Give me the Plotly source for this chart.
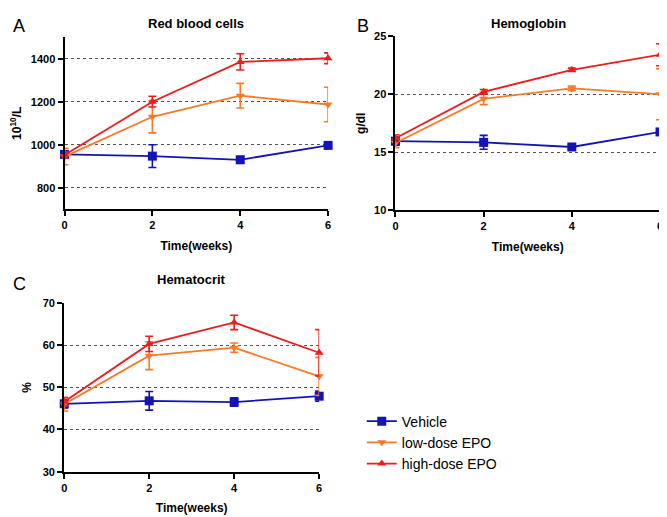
import plotly.graph_objects as go

weeks = [0, 2, 4, 6]
groups = ["Vehicle", "low-dose EPO", "high-dose EPO"]
colors = ["#1414B4", "#F77A28", "#EE1C1C"]
symbols = ["square", "triangle-down", "triangle-up"]

# Red blood cells (10^10/L)
rbc_vehicle = [955, 947, 930, 997]
rbc_vehicle_err = [15, 53, 15, 15]
rbc_low = [945, 1130, 1228, 1187]
rbc_low_err = [38, 75, 57, 80]
rbc_high = [952, 1200, 1385, 1402]
rbc_high_err = [15, 25, 38, 25]

# Hemoglobin (g/dl)
hb_vehicle = [15.95, 15.85, 15.45, 16.75]
hb_vehicle_err = [0.35, 0.6, 0.15, 0.2]
hb_low = [15.8, 19.6, 20.5, 20.0]
hb_low_err = [0.4, 0.5, 0.2, 2.2]
hb_high = [16.2, 20.2, 22.1, 23.4]
hb_high_err = [0.3, 0.2, 0.15, 0.95]

# Hematocrit (%)
hct_vehicle = [46.1, 46.8, 46.5, 47.9]
hct_vehicle_err = [1.0, 2.2, 1.0, 1.2]
hct_low = [46.0, 57.5, 59.4, 52.6]
hct_low_err = [1.6, 3.3, 1.1, 4.5]
hct_high = [46.6, 60.3, 65.4, 58.2]
hct_high_err = [1.0, 1.8, 1.7, 5.5]

panels = [
    ("x", "y", [rbc_vehicle, rbc_low, rbc_high], [rbc_vehicle_err, rbc_low_err, rbc_high_err]),
    ("x2", "y2", [hb_vehicle, hb_low, hb_high], [hb_vehicle_err, hb_low_err, hb_high_err]),
    ("x3", "y3", [hct_vehicle, hct_low, hct_high], [hct_vehicle_err, hct_low_err, hct_high_err]),
]

FONT = "Liberation Sans, Arial, sans-serif"
# the page body has an 8px margin; the figure fills the rest of the window
OFF = 8
W, H = 667 - OFF, 517 - OFF

def px(x):
    return (x - OFF) / W

def py(y):
    return 1 - (y - OFF) / H

fig = go.Figure()
for pi, (xa, ya, vals, errs) in enumerate(panels):
    for gi in range(3):
        fig.add_trace(go.Scatter(
            x=weeks, y=vals[gi], xaxis=xa, yaxis=ya,
            mode="lines+markers", name=groups[gi], legendgroup=groups[gi],
            showlegend=(pi == 0),
            line=dict(color=colors[gi], width=1.8),
            marker=dict(symbol=symbols[gi], size=9 if gi == 0 else 8, color=colors[gi]),
            error_y=dict(type="data", array=errs[gi], color=colors[gi], thickness=1.6, width=4),
            cliponaxis=False,
        ))

axis_common = dict(
    showline=True, linecolor="black", linewidth=2, ticks="outside", ticklen=5,
    tickwidth=2, tickcolor="black", zeroline=False,
    tickfont=dict(family=FONT, size=11, color="black", weight="bold"),
)
xcommon = dict(axis_common, range=[0, 6], tickvals=[0, 2, 4, 6], showgrid=False,
               title=dict(text="<b>Time(weeks)</b>", font=dict(family=FONT, size=12, color="black"), standoff=11))
ygrid = dict(showgrid=True, gridcolor="#555555", griddash="dot", gridwidth=1)
ytitle_font = dict(family=FONT, size=12, color="black")

fig.update_layout(
    width=W, height=H, margin=dict(l=0, r=0, t=0, b=0),
    plot_bgcolor="white", paper_bgcolor="white",
    font=dict(family=FONT, color="black"),
    xaxis=dict(xcommon, domain=[px(62), px(328)], anchor="y"),
    yaxis=dict(axis_common, **ygrid, domain=[py(208), py(31.7)], anchor="x", range=[700, 1500],
               tickvals=[800, 1000, 1200, 1400],
               title=dict(text="<b>10<sup>10</sup>/L</b>", font=ytitle_font, standoff=8)),
    xaxis2=dict(xcommon, domain=[px(396), px(663)], anchor="y2"),
    yaxis2=dict(axis_common, **ygrid, domain=[py(209), py(30.7)], anchor="x2", range=[10, 25],
                tickvals=[10, 15, 20, 25],
                title=dict(text="<b>g/dl</b>", font=ytitle_font, standoff=6)),
    xaxis3=dict(xcommon, domain=[px(61.7), px(319)], anchor="y3"),
    yaxis3=dict(axis_common, **ygrid, domain=[py(476.7), py(304)], anchor="x3", range=[30, 70],
                tickvals=[30, 40, 50, 60, 70],
                title=dict(text="<b>%</b>", font=ytitle_font, standoff=9)),
    legend=dict(x=px(362), y=py(409), xanchor="left", yanchor="top",
                font=dict(family=FONT, size=14, color="black"), bgcolor="rgba(0,0,0,0)",
                tracegroupgap=0),
    showlegend=True,
)

for text, x, y in [("<b>Red blood cells</b>", 195, 8), ("<b>Hemoglobin</b>", 530, 8),
                   ("<b>Hematocrit</b>", 190, 280)]:
    fig.add_annotation(text=text, x=px(x), y=py(y), xref="paper", yref="paper",
                       showarrow=False, xanchor="center", yanchor="top" if y < 20 else "middle",
                       font=dict(family=FONT, size=13, color="black"))
for text, x, y in [("A", 8, 8), ("B", 355, 8), ("C", 8, 285)]:
    fig.add_annotation(text=text, x=px(x), y=py(y), xref="paper", yref="paper",
                       showarrow=False, xanchor="left", yanchor="top" if y < 20 else "middle",
                       font=dict(family=FONT, size=18, color="black"))

fig.write_html("out.html")
